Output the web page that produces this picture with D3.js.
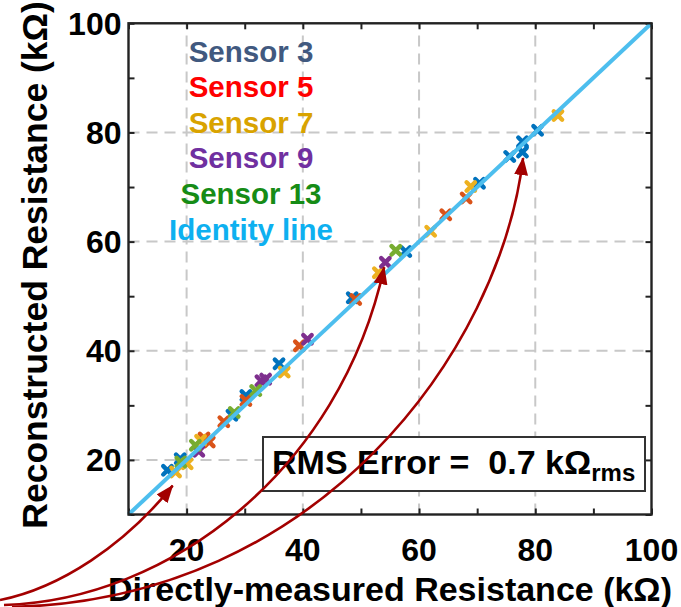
<!DOCTYPE html>
<html>
<head>
<meta charset="utf-8">
<script src="https://cdn.jsdelivr.net/npm/d3@7/dist/d3.min.js"></script>
<style>
  html, body { margin: 0; padding: 0; background: #fff; }
  svg { display: block; font-family: "Liberation Sans", Arial, sans-serif; font-weight: bold; }
</style>
</head>
<body>
<svg id="chart" width="681" height="607"></svg>
<script>
// Measured vs reconstructed resistance (kΩ) for each sensor
const sensor3Measured  = [16.7, 18.9, 27.8, 30.2, 35.9, 48.5, 57.7, 70.4, 75.6, 77.8, 77.8, 80.4];
const sensor3Recon     = [18.1, 20.2, 28.2, 31.8, 37.6, 49.7, 58.2, 70.7, 75.6, 76.4, 78.3, 80.4];
const sensor5Measured  = [23.0, 23.9, 26.4, 30.2, 39.4, 49.1, 64.6, 68.1];
const sensor5Recon     = [24.0, 23.3, 27.0, 30.9, 40.9, 49.4, 64.9, 68.0];
const sensor7Measured  = [18.1, 20.1, 22.4, 36.8, 53.0, 62.0, 68.9, 83.9];
const sensor7Recon     = [17.8, 19.3, 23.6, 36.1, 54.3, 61.9, 70.1, 83.1];
const sensor9Measured  = [22.1, 32.8, 33.6, 40.8, 54.2];
const sensor9Recon     = [21.6, 34.5, 34.8, 42.1, 56.2];
const sensor13Measured = [19.0, 21.5, 28.2, 31.9, 56.0];
const sensor13Recon    = [19.6, 22.7, 28.7, 32.7, 58.4];

const legendLabels = ["Sensor 3", "Sensor 5", "Sensor 7", "Sensor 9", "Sensor 13", "Identity line"];
const tickValues = [20, 40, 60, 80, 100];
const minorTicks = [10, 20, 30, 40, 50, 60, 70, 80, 90, 100];
const gridValues = [20, 40, 60, 80];
const axisDomain = [10, 100];
const rmsValue = 0.7;
// Points singled out by the arrows (measured, reconstructed)
const highlightX = [17.6, 54.0, 77.9];
const highlightY = [15.3, 55.3, 75.3];

const series = [
  { x: sensor3Measured,  y: sensor3Recon,  mark: "#0072BD" },
  { x: sensor5Measured,  y: sensor5Recon,  mark: "#D95319" },
  { x: sensor7Measured,  y: sensor7Recon,  mark: "#EDB120" },
  { x: sensor9Measured,  y: sensor9Recon,  mark: "#7E2F8E" },
  { x: sensor13Measured, y: sensor13Recon, mark: "#77AC30" }
];
const legendColors = ["#41597F", "#FF0000", "#D9A300", "#7030A0", "#168C16", "#0DB0F0"];

const svg = d3.select("#chart");
const plotLeft = 128.5, plotRight = 651.5, plotTop = 23.3, plotBottom = 514.5;

const x = d3.scaleLinear().domain(axisDomain).range([plotLeft, plotRight]);
const y = d3.scaleLinear().domain(axisDomain).range([plotBottom, plotTop]);

// dashed grid
const grid = svg.append("g").attr("stroke", "#c8c8c8").attr("stroke-width", 2)
  .attr("stroke-dasharray", "11,7");
grid.selectAll("line.v").data(gridValues).join("line").attr("class", "v")
  .attr("x1", d => x(d)).attr("x2", d => x(d)).attr("y1", plotBottom).attr("y2", plotTop);
grid.selectAll("line.h").data(gridValues).join("line").attr("class", "h")
  .attr("y1", d => y(d)).attr("y2", d => y(d)).attr("x1", plotLeft).attr("x2", plotRight);

// axes with inward ticks on all four sides
const tickLen = 6;
const addAxis = (axis, transform) => {
  const g = svg.append("g").attr("transform", transform).call(axis);
  g.select(".domain").remove();
  g.selectAll("line").attr("stroke", "#222").attr("stroke-width", 2);
  g.selectAll("text").remove();
  return g;
};
addAxis(d3.axisBottom(x).tickValues(minorTicks).tickSizeInner(-tickLen).tickSizeOuter(0), `translate(0,${plotBottom})`);
addAxis(d3.axisTop(x).tickValues(minorTicks).tickSizeInner(-tickLen).tickSizeOuter(0), `translate(0,${plotTop})`);
addAxis(d3.axisLeft(y).tickValues(minorTicks).tickSizeInner(-tickLen).tickSizeOuter(0), `translate(${plotLeft},0)`);
addAxis(d3.axisRight(y).tickValues(minorTicks).tickSizeInner(-tickLen).tickSizeOuter(0), `translate(${plotRight},0)`);

// tick labels
svg.append("g").selectAll("text").data(tickValues).join("text")
  .attr("x", d => x(d)).attr("y", 561).attr("text-anchor", "middle")
  .attr("font-size", 32).attr("fill", "#000").text(d => d);
svg.append("g").selectAll("text").data(tickValues).join("text")
  .attr("x", plotLeft - 7).attr("y", d => y(d)).attr("dy", "0.36em").attr("text-anchor", "end")
  .attr("font-size", 32).attr("fill", "#000").text(d => d);

// x-shaped markers
const arm = 4.2;
const xPath = `M${-arm},${-arm}L${arm},${arm}M${-arm},${arm}L${arm},${-arm}`;
series.forEach(s => {
  svg.append("g").selectAll("path").data(s.x.map((v, i) => [v, s.y[i]])).join("path")
    .attr("d", xPath)
    .attr("transform", d => `translate(${x(d[0])},${y(d[1])})`)
    .attr("fill", "none").attr("stroke", s.mark).attr("stroke-width", 4.4)
    .attr("stroke-linecap", "round");
});

// identity line
svg.append("line")
  .attr("x1", x(axisDomain[0])).attr("y1", y(axisDomain[0]))
  .attr("x2", x(axisDomain[1])).attr("y2", y(axisDomain[1]))
  .attr("stroke", "#4DBEEE").attr("stroke-width", 4);

// frame
svg.append("rect").attr("x", plotLeft).attr("y", plotTop)
  .attr("width", plotRight - plotLeft).attr("height", plotBottom - plotTop)
  .attr("fill", "none").attr("stroke", "#222").attr("stroke-width", 2.4);

// legend
svg.append("g").selectAll("text").data(legendLabels).join("text")
  .attr("x", 251).attr("y", (d, i) => 61.5 + i * 35.6)
  .attr("text-anchor", "middle").attr("font-size", 29.5)
  .attr("fill", (d, i) => legendColors[i]).text(d => d);

// RMS error box
svg.append("rect").attr("x", 263).attr("y", 437).attr("width", 382).attr("height", 54)
  .attr("fill", "#fff").attr("stroke", "#333").attr("stroke-width", 2);
const rms = svg.append("text").attr("x", 272).attr("y", 474)
  .attr("font-size", 34).attr("fill", "#000").style("white-space", "pre");
rms.append("tspan").text(`RMS Error =  ${rmsValue} kΩ`);
rms.append("tspan").attr("font-size", 24).attr("dy", 7).text("rms");

// axis titles
svg.append("text").attr("x", (plotLeft + plotRight) / 2).attr("y", 601)
  .attr("text-anchor", "middle").attr("font-size", 34).attr("fill", "#000")
  .text("Directly-measured Resistance (kΩ)");
svg.append("text")
  .attr("transform", `translate(47,${(plotTop + plotBottom) / 2 - 4}) rotate(-90)`)
  .attr("text-anchor", "middle").attr("font-size", 35.5).attr("fill", "#000")
  .text("Reconstructed Resistance (kΩ)");

// arrows pointing at highlighted points
const defs = svg.append("defs");
defs.append("marker").attr("id", "head")
  .attr("viewBox", "0 0 18 14").attr("refX", 17).attr("refY", 7)
  .attr("markerWidth", 18).attr("markerHeight", 14)
  .attr("markerUnits", "userSpaceOnUse").attr("orient", "auto")
  .append("path").attr("d", "M0,0L18,7L0,14Z").attr("fill", "#A30000");

const starts = [[0, 600], [4, 605], [12, 607]];
const bends = [[[60, 588], [125, 545]], [[170, 600], [340, 470]], [[320, 600], [500, 350]]];
highlightX.forEach((hx, i) => {
  const tip = [x(hx), y(highlightY[i])];
  const p = d3.path();
  p.moveTo(starts[i][0], starts[i][1]);
  p.bezierCurveTo(bends[i][0][0], bends[i][0][1], bends[i][1][0], bends[i][1][1], tip[0], tip[1]);
  svg.append("path").attr("d", p.toString())
    .attr("fill", "none").attr("stroke", "#A30000").attr("stroke-width", 2.6)
    .attr("marker-end", "url(#head)");
});
</script>
</body>
</html>
